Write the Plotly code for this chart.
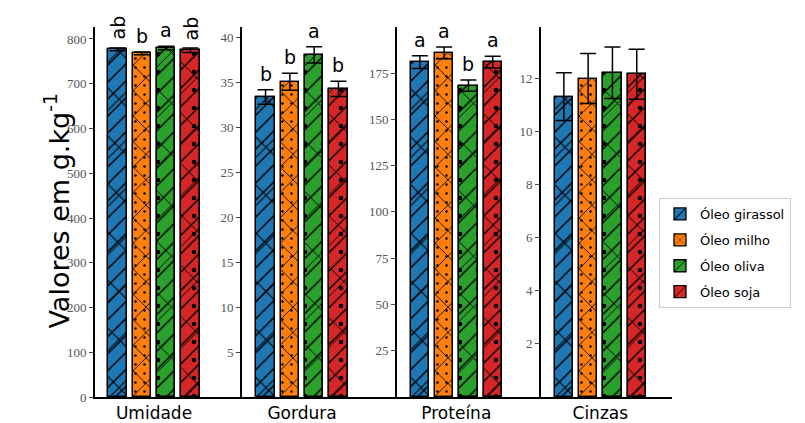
import plotly.graph_objects as go

panels = ["Umidade", "Gordura", "Proteína", "Cinzas"]
oils = ["Óleo girassol", "Óleo milho", "Óleo oliva", "Óleo soja"]
colors = ["#1f77b4", "#ff7f0e", "#2ca02c", "#d62728"]

umidade = [777, 768, 780, 775]
umidade_err = [3, 3, 4, 5]
gordura = [33.4, 35.1, 38.1, 34.3]
gordura_err = [0.8, 0.95, 0.9, 0.85]
proteina = [180.9, 185.9, 168.2, 180.9]
proteina_err = [3.4, 3.2, 3.0, 3.2]
cinzas = [11.3, 11.98, 12.2, 12.14]
cinzas_err = [0.9, 0.94, 0.97, 0.94]

letters_umidade = ["ab", "b", "a", "ab"]
letters_gordura = ["b", "b", "a", "b"]
letters_proteina = ["a", "a", "b", "a"]
letters_cinzas = ["", "", "", ""]

ticks_umidade = [0, 100, 200, 300, 400, 500, 600, 700, 800]
ticks_gordura = [5, 10, 15, 20, 25, 30, 35, 40]
ticks_proteina = [25, 50, 75, 100, 125, 150, 175]
ticks_cinzas = [2, 4, 6, 8, 10, 12]

values = [umidade, gordura, proteina, cinzas]
errors = [umidade_err, gordura_err, proteina_err, cinzas_err]
letters = [letters_umidade, letters_gordura, letters_proteina, letters_cinzas]
yticks = [ticks_umidade, ticks_gordura, ticks_proteina, ticks_cinzas]

# layout geometry (pixels)
W, H = 805, 423
pitch = 24.3
xpos = [-1.5, -0.5, 0.5, 1.5]
spines = [95, 242, 397, 541, 672]
centers = [154, 302, 456.3, 600.3]
yranges = [826.8, 41.2, 199.9, 13.92]
ytop_px, ybot_px = 27, 397

# hatch layers per oil: (shape, size, solidity)
hatches = [
    [("/", 12, 0.12), ("x", 34, 0.06)],
    [("x", 18, 0.09), (".", 9, 0.06)],
    [("/", 13, 0.11), (".", 18, 0.05), ("x", 36, 0.05)],
    [("/", 13, 0.11), ("x", 36, 0.05), (".", 18, 0.05)],
]

fig = go.Figure()
for p in range(4):
    ax = "" if p == 0 else str(p + 1)
    for k in range(4):
        layers = hatches[k]
        for li, (shape, size, sol) in enumerate(layers):
            top = li == len(layers) - 1
            if li == 0:
                marker = dict(
                    color=colors[k],
                    line=dict(color="black", width=1.3),
                    pattern=dict(shape=shape, size=size, solidity=sol,
                                 fgcolor="black", bgcolor=colors[k], fillmode="replace"),
                )
            else:
                marker = dict(
                    color="rgba(0,0,0,0)",
                    line=dict(color="black", width=1.3),
                    pattern=dict(shape=shape, size=size, solidity=sol,
                                 fgcolor="black", bgcolor="rgba(0,0,0,0)", fillmode="replace"),
                )
            fig.add_trace(go.Bar(
                x=[xpos[k]], y=[values[p][k]], width=0.76,
                marker=marker,
                name=oils[k], legendgroup=oils[k],
                showlegend=(p == 0 and li == 0),
                error_y=dict(type="data", array=[errors[p][k]], color="black",
                             thickness=1.5, width=8, visible=top),
                xaxis="x" + ax, yaxis="y" + ax,
                hoverinfo="skip",
            ))
        if letters[p][k]:
            rot = len(letters[p][k]) > 1
            fig.add_annotation(
                x=xpos[k], y=values[p][k] + errors[p][k],
                xref="x" + ax, yref="y" + ax,
                text=letters[p][k], showarrow=False,
                textangle=-90 if rot else 0,
                yanchor="bottom", yshift=3 if not rot else 6,
                font=dict(family="DejaVu Sans", size=19, color="black"),
            )

y0 = 1 - ybot_px / H
y1 = 1 - ytop_px / H
layout = {}
for p in range(4):
    ax = "" if p == 0 else str(p + 1)
    L, R = spines[p], spines[p + 1]
    C = centers[p]
    layout["xaxis" + ax] = dict(
        domain=[L / W, R / W], range=[(L - C) / pitch, (R - C) / pitch],
        anchor="y" + ax, showgrid=False, zeroline=False,
        showline=True, linecolor="black", linewidth=2,
        tickvals=[0], ticktext=[panels[p]], ticks="", ticklen=0,
        tickfont=dict(family="DejaVu Sans", size=17, color="black"),
        fixedrange=True,
    )
    layout["yaxis" + ax] = dict(
        domain=[y0, y1], range=[0, yranges[p]],
        anchor="x" + ax, showgrid=False, zeroline=False,
        showline=True, linecolor="black", linewidth=2,
        tickvals=yticks[p], ticks="outside", ticklen=4, tickwidth=1,
        tickcolor="#444",
        tickfont=dict(family="Liberation Serif", size=13, color="#555"),
        fixedrange=True,
    )

fig.update_layout(**layout)
fig.add_annotation(
    x=38 / W, y=1 - 211 / H, xref="paper", yref="paper",
    text="Valores em g.kg<sup>-1</sup>", textangle=-90, showarrow=False,
    font=dict(family="DejaVu Sans", size=27, color="black"),
)
fig.update_layout(
    width=W, height=H, autosize=False,
    margin=dict(l=0, r=0, t=0, b=0, autoexpand=False),
    plot_bgcolor="white", paper_bgcolor="white",
    barmode="overlay", bargap=0,
    showlegend=True,
    legend=dict(
        x=659 / W, y=1 - 198 / H, xanchor="left", yanchor="top",
        font=dict(family="DejaVu Sans", size=13, color="black"),
        bordercolor="#cccccc", borderwidth=1, bgcolor="white",
        traceorder="grouped", tracegroupgap=6,
    ),
)
fig.write_html("out.html", config={"displayModeBar": False},
               post_script="document.body.style.margin='0';")
